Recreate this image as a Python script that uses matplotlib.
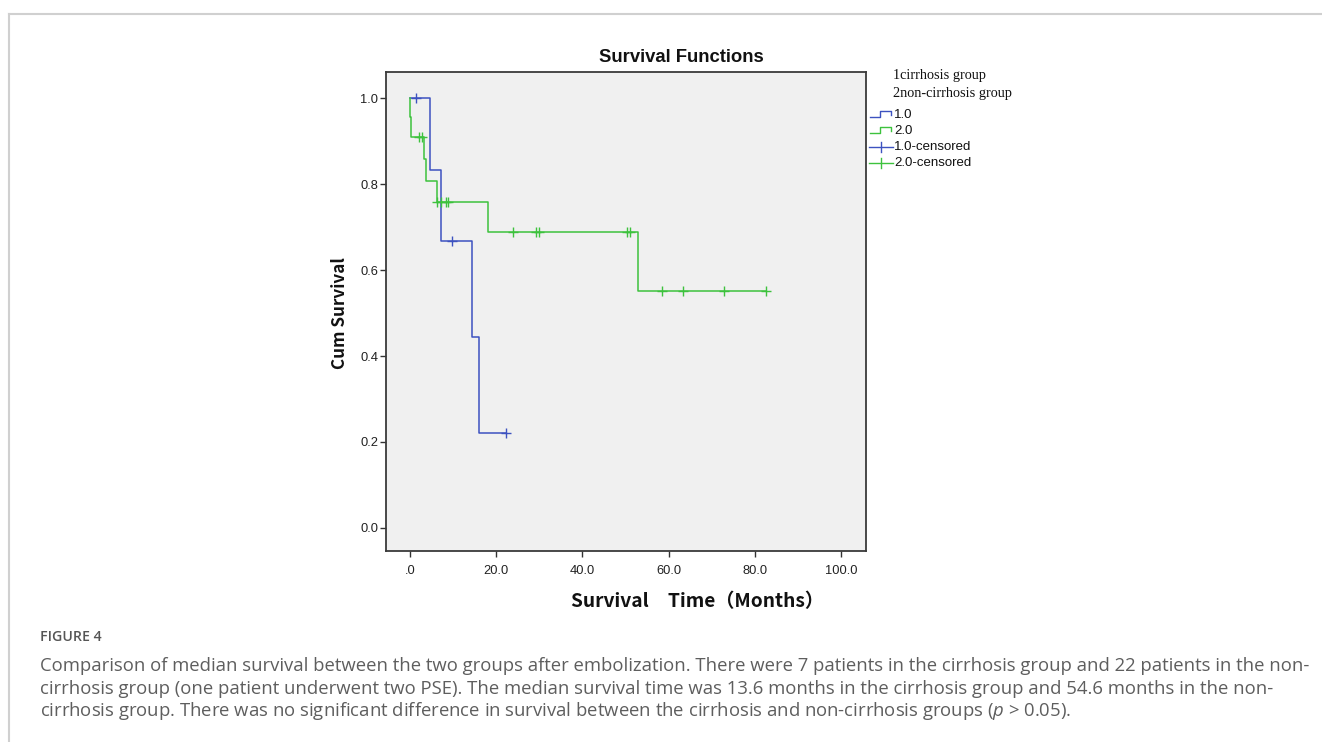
import numpy as np
import matplotlib
matplotlib.use("Agg")
import matplotlib.pyplot as plt
from matplotlib.lines import Line2D

plt.rcParams['mathtext.fontset'] = 'custom'
plt.rcParams['mathtext.it'] = 'Open Sans:italic'
plt.rcParams['mathtext.rm'] = 'Open Sans'

# Curva Kaplan-Meier grupo cirrosis (1.0)
t_cirr = [0.0, 4.6, 7.2, 14.4, 16.0, 22.3]
s_cirr = [1.0, 0.833, 0.667, 0.444, 0.222, 0.222]
cens_cirr = [1.5, 9.7, 22.3]

# Curva Kaplan-Meier grupo no cirrosis (2.0)
t_non = [0.0, 0.1, 0.3, 3.3, 3.8, 6.2, 18.2, 52.9, 82.6]
s_non = [1.0, 0.955, 0.909, 0.859, 0.808, 0.758, 0.689, 0.551, 0.551]
cens_non = [2.2, 2.8, 6.2, 7.1, 8.3, 8.8, 24.0, 29.2, 30.0, 50.3, 51.0,
            58.5, 63.3, 72.9, 82.6]

x_ticks = [0, 20, 40, 60, 80, 100]
x_ticklabels = ['.0', '20.0', '40.0', '60.0', '80.0', '100.0']
y_ticks = [0.0, 0.2, 0.4, 0.6, 0.8, 1.0]
y_ticklabels = ['0.0', '0.2', '0.4', '0.6', '0.8', '1.0']

group_names = ['1cirrhosis group', '2non-cirrhosis group']
legend_labels = ['1.0', '2.0', '1.0-censored', '2.0-censored']

caption_title = 'FIGURE 4'
caption_lines = [
    'Comparison of median survival between the two groups after embolization. '
    'There were 7 patients in the cirrhosis group and 22 patients in the non-',
    'cirrhosis group (one patient underwent two PSE). The median survival time '
    'was 13.6 months in the cirrhosis group and 54.6 months in the non-',
    'cirrhosis group. There was no significant difference in survival between '
    'the cirrhosis and non-cirrhosis groups ($p$ > 0.05).',
]

blue = '#3D52C0'
green = '#3DC23D'

W, H = 1322, 742
fig = plt.figure(figsize=(W / 100, H / 100), dpi=100)
fig.patch.set_facecolor('white')


def fx(px):
    return px / W


def fy(py):
    return 1 - py / H


# Marco de la tarjeta
fig.add_artist(Line2D([fx(9), 1], [fy(14), fy(14)], color='#d0d0d0', lw=1.5))
fig.add_artist(Line2D([fx(9), fx(9)], [fy(14), 0], color='#d0d0d0', lw=1.5))

ax = fig.add_axes([fx(386), fy(551), fx(866) - fx(386), fy(72) - fy(551)])
ax.set_facecolor('#f0f0f0')


def level_at(times, surv, t):
    idx = np.searchsorted(times, t, side='right') - 1
    return np.asarray(surv)[idx]


for times, surv, cens, col in [(t_cirr, s_cirr, cens_cirr, blue),
                               (t_non, s_non, cens_non, green)]:
    ax.step(times, surv, where='post', color=col, lw=1.1)
    ax.plot(cens, level_at(times, surv, cens), linestyle='none', marker='+',
            color=col, markersize=6.5, markeredgewidth=1.0)

ax.set_xlim(-5.57, 105.8)
ax.set_ylim(-0.0535, 1.0605)
ax.set_xticks(x_ticks)
ax.set_xticklabels(x_ticklabels)
ax.set_yticks(y_ticks)
ax.set_yticklabels(y_ticklabels)
ax.tick_params(direction='out', length=4, width=1.0, color='#333333',
               labelsize=9.3, labelcolor='#222222', labelfontfamily='Liberation Sans')
ax.tick_params(axis='x', pad=6)
ax.tick_params(axis='y', pad=1.5)
for sp in ax.spines.values():
    sp.set_color('#3a3a3a')
    sp.set_linewidth(1.3)

# Titulos
fig.text(fx(681), fy(57), 'Survival Functions', ha='center', va='center',
         fontsize=13.3, fontweight='bold', family='Liberation Sans', color='#111111')
fig.text(fx(340), fy(313), 'Cum Survival', ha='center', va='center', rotation=90,
         fontsize=12.3, fontweight='bold', family=['Noto Sans CJK SC', 'DejaVu Sans'],
         color='#111111')
fig.text(fx(697), fy(602), 'Survival\u3000Time（Months）', ha='center', va='center',
         fontsize=13.8, fontweight='bold', family=['Noto Sans CJK SC', 'DejaVu Sans'],
         color='#111111')

# Leyenda dibujada a mano en coordenadas de pixel
lax = fig.add_axes([fx(860), fy(175), fx(1060) - fx(860), fy(62) - fy(175)])
lax.set_xlim(860, 1060)
lax.set_ylim(175, 62)
lax.axis('off')
lax.text(893, 76, group_names[0], ha='left', va='center', fontsize=10.3,
         family='Liberation Serif', color='#111111')
lax.text(893, 94, group_names[1], ha='left', va='center', fontsize=10.3,
         family='Liberation Serif', color='#111111')
for i, (lab, col) in enumerate(zip(legend_labels[:2], [blue, green])):
    yc = 114 + 16 * i
    lax.plot([870, 880, 880, 891, 891], [yc + 3, yc + 3, yc - 3, yc - 3, yc + 1],
             color=col, lw=1.0)
    lax.text(894, yc + 1, lab, ha='left', va='center', fontsize=9.5,
             family='Liberation Sans', color='#111111')
for i, (lab, col) in enumerate(zip(legend_labels[2:], [blue, green])):
    yc = 147 + 16 * i
    lax.plot([869, 893], [yc, yc], color=col, lw=1.0)
    lax.plot([881, 881], [yc - 5, yc + 5], color=col, lw=1.0)
    lax.text(894, yc, lab, ha='left', va='center', fontsize=9.5,
             family='Liberation Sans', color='#111111')

# Pie de figura
fig.text(fx(40), fy(637), caption_title, ha='left', va='center', fontsize=10.2,
         fontweight='semibold', family='Open Sans', color='#555555')
for i, line in enumerate(caption_lines):
    fig.text(fx(40), fy(666 + 22.5 * i), line, ha='left', va='center',
             fontsize=13.35, family='Open Sans', color='#5e5e5e')

fig.savefig('out.png', dpi=100)
